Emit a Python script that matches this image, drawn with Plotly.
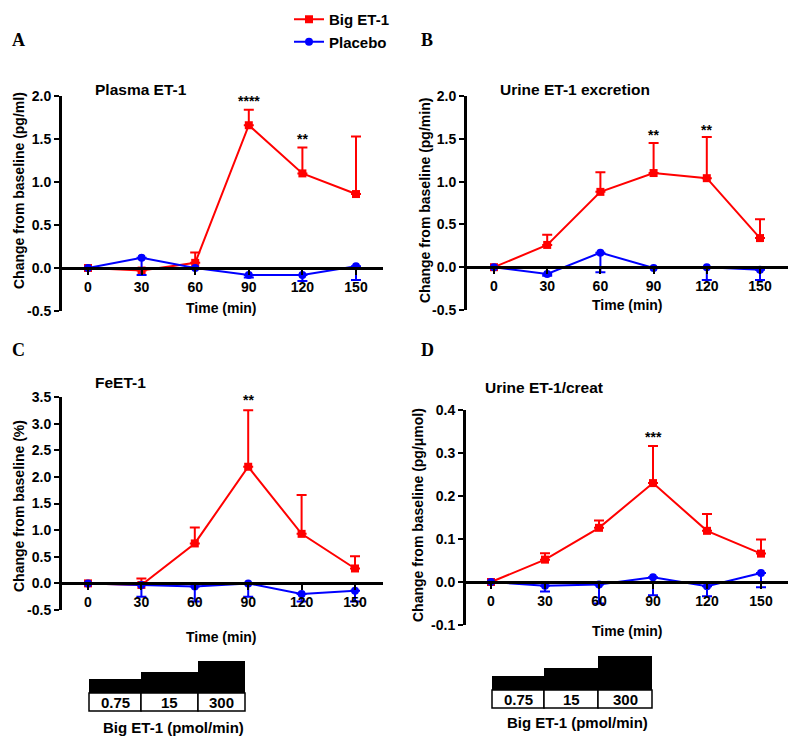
import plotly.graph_objects as go

# page is 800x747; the browser body has an 8px margin, so the figure is 784x731 offset by 8px
OFF = 8
W, H = 800 - 2 * OFF, 747 - 2 * OFF

# ---------------- data ----------------
time = [0, 30, 60, 90, 120, 150]

big_A = [0, -0.03, 0.06, 1.66, 1.10, 0.86]
big_A_err = [0, 0.02, 0.12, 0.18, 0.30, 0.67]
pla_A = [0, 0.12, 0.0, -0.08, -0.08, 0.02]
pla_A_err = [0, 0.20, 0.0, 0.03, 0.07, 0.16]

big_B = [0, 0.26, 0.88, 1.10, 1.04, 0.34]
big_B_err = [0, 0.12, 0.23, 0.35, 0.48, 0.22]
pla_B = [0, -0.08, 0.17, -0.01, 0.0, -0.03]
pla_B_err = [0, 0.02, 0.23, 0.0, 0.15, 0.12]

big_C = [0, -0.03, 0.75, 2.19, 0.93, 0.28]
big_C_err = [0, 0.12, 0.30, 1.06, 0.73, 0.23]
pla_C = [0, -0.03, -0.06, 0.0, -0.20, -0.14]
pla_C_err = [0, 0.22, 0.28, 0.25, 0.14, 0.20]

big_D = [0, 0.052, 0.126, 0.23, 0.119, 0.066]
big_D_err = [0, 0.015, 0.017, 0.086, 0.039, 0.033]
pla_D = [0, -0.009, -0.006, 0.011, -0.010, 0.021]
pla_D_err = [0, 0.013, 0.044, 0.042, 0.023, 0.033]

yticks_A = [-0.5, 0.0, 0.5, 1.0, 1.5, 2.0]
yticks_B = [-0.5, 0.0, 0.5, 1.0, 1.5, 2.0]
yticks_C = [-0.5, 0.0, 0.5, 1.0, 1.5, 2.0, 2.5, 3.0, 3.5]
yticks_D = [-0.1, 0.0, 0.1, 0.2, 0.3, 0.4]

sig_A = [(90, "****", 1.94), (120, "**", 1.50)]
sig_B = [(90, "**", 1.54), (120, "**", 1.60)]
sig_C = [(90, "**", 3.44)]
sig_D = [(90, "***", 0.337)]

titles = ["Plasma ET-1", "Urine ET-1 excretion", "FeET-1", "Urine ET-1/creat"]
ylabels = ["Change from baseline (pg/ml)", "Change from baseline (pg/min)",
           "Change from baseline (%)", "Change from baseline (pg/\u03bcmol)"]
letters = ["A", "B", "C", "D"]
dose_labels = ["0.75", "15", "300"]

RED = "#FF0000"
BLUE = "#0000FF"
FONT = "Arial, Liberation Sans, sans-serif"
SERIF = "Times New Roman, Liberation Serif, serif"


def fx(p):
    return (p - OFF) / W


def fy(p):
    return 1 - (p - OFF) / H


# layout geometry (page pixels)
panels = [
    dict(big=big_A, be=big_A_err, pla=pla_A, pe=pla_A_err, yt=yticks_A, sig=sig_A,
         axL=62, axR=383, x0=88, x150=356, ytop=96, ybot=311,
         title_xy=(93, 89), ylab_xy=(19, 191), letter_xy=(18, 40), time_xy=(221, 308)),
    dict(big=big_B, be=big_B_err, pla=pla_B, pe=pla_B_err, yt=yticks_B, sig=sig_B,
         axL=467, axR=788, x0=494, x150=760, ytop=96, ybot=310,
         title_xy=(498, 89), ylab_xy=(425, 201), letter_xy=(427, 40), time_xy=(627, 305)),
    dict(big=big_C, be=big_C_err, pla=pla_C, pe=pla_C_err, yt=yticks_C, sig=sig_C,
         axL=62, axR=383, x0=88, x150=355, ytop=397, ybot=610,
         title_xy=(93, 383), ylab_xy=(19, 506), letter_xy=(18, 350), time_xy=(221, 637)),
    dict(big=big_D, be=big_D_err, pla=pla_D, pe=pla_D_err, yt=yticks_D, sig=sig_D,
         axL=466, axR=788, x0=491, x150=761, ytop=410, ybot=625,
         title_xy=(483, 387), ylab_xy=(418, 515), letter_xy=(427, 350), time_xy=(627, 631)),
]

fig = go.Figure()
annotations = []
layout_axes = {}

for i, p in enumerate(panels):
    n = "" if i == 0 else str(i + 1)
    xref, yref = "x" + n, "y" + n
    s = (p["x150"] - p["x0"]) / 150.0
    xr = [(p["axL"] - p["x0"]) / s, (p["axR"] - p["x0"]) / s]
    ymin, ymax = p["yt"][0], p["yt"][-1]
    yzero_px = p["ytop"] + (ymax - 0) / (ymax - ymin) * (p["ybot"] - p["ytop"])

    fig.add_trace(go.Scatter(
        x=time, y=p["big"], mode="lines+markers", name="Big ET-1",
        line=dict(color=RED, width=2), marker=dict(symbol="square", size=8, color=RED),
        error_y=dict(type="data", symmetric=False, array=p["be"],
                     arrayminus=[0] * len(time), color=RED, thickness=2, width=5),
        xaxis=xref, yaxis=yref, showlegend=(i == 0), legendrank=1))
    fig.add_trace(go.Scatter(
        x=time, y=p["pla"], mode="lines+markers", name="Placebo",
        line=dict(color=BLUE, width=2), marker=dict(symbol="circle", size=8, color=BLUE),
        error_y=dict(type="data", symmetric=False, array=[0] * len(time),
                     arrayminus=p["pe"], color=BLUE, thickness=2, width=5),
        xaxis=xref, yaxis=yref, showlegend=(i == 0), legendrank=2))

    layout_axes["xaxis" + n] = dict(
        domain=[fx(p["axL"]), fx(p["axR"])], range=xr, anchor="free",
        position=fy(yzero_px), showline=True, linecolor="black", linewidth=3,
        ticks="outside", ticklen=5, tickwidth=2, tickcolor="black",
        tickvals=time, ticktext=[str(t) for t in time], automargin=False,
        tickfont=dict(family=FONT, size=14, color="black", weight="bold"),
        showgrid=False, zeroline=False, fixedrange=True)
    layout_axes["yaxis" + n] = dict(
        domain=[fy(p["ybot"]), fy(p["ytop"])], range=[ymin, ymax], anchor=xref,
        showline=True, linecolor="black", linewidth=3, automargin=False,
        ticks="outside", ticklen=5, tickwidth=2, tickcolor="black",
        tickvals=p["yt"], ticktext=[f"{v:.1f}" for v in p["yt"]],
        tickfont=dict(family=FONT, size=14, color="black", weight="bold"),
        showgrid=False, zeroline=False, fixedrange=True)

    for (tx, txt, ty) in p["sig"]:
        annotations.append(dict(x=tx, y=ty, xref=xref, yref=yref, text=txt, showarrow=False,
                                font=dict(family=FONT, size=14, color="black", weight="bold")))

    annotations.append(dict(x=fx(p["title_xy"][0]), y=fy(p["title_xy"][1]), xref="paper", yref="paper",
                            xanchor="left", yanchor="middle", text=titles[i], showarrow=False,
                            font=dict(family=FONT, size=15.5, color="black", weight="bold")))
    annotations.append(dict(x=fx(p["ylab_xy"][0]), y=fy(p["ylab_xy"][1]), xref="paper", yref="paper",
                            xanchor="center", yanchor="middle", text=ylabels[i], textangle=-90,
                            showarrow=False,
                            font=dict(family=FONT, size=14, color="black", weight="bold")))
    annotations.append(dict(x=fx(p["letter_xy"][0]), y=fy(p["letter_xy"][1]), xref="paper", yref="paper",
                            xanchor="center", yanchor="middle", text=letters[i], showarrow=False,
                            font=dict(family=SERIF, size=18, color="black", weight="bold")))
    annotations.append(dict(x=fx(p["time_xy"][0]), y=fy(p["time_xy"][1]), xref="paper", yref="paper",
                            xanchor="center", yanchor="middle", text="Time (min)", showarrow=False,
                            font=dict(family=FONT, size=14, color="black", weight="bold")))

# dose step boxes below panels C and D
shapes = []
dose_geo = [
    dict(xs=[89, 141, 198, 245], tops=[679, 672, 661], mid=693, bot=711, lab_y=727, lab_x=173),
    dict(xs=[492, 544, 598, 652], tops=[676, 668, 656], mid=690, bot=708, lab_y=722, lab_x=577),
]
for g in dose_geo:
    for k, lab in enumerate(dose_labels):
        x1, x2 = g["xs"][k], g["xs"][k + 1]
        shapes.append(dict(type="rect", xref="paper", yref="paper",
                           x0=fx(x1), x1=fx(x2), y0=fy(g["mid"]), y1=fy(g["tops"][k]),
                           fillcolor="black", line=dict(width=0)))
        shapes.append(dict(type="rect", xref="paper", yref="paper",
                           x0=fx(x1), x1=fx(x2), y0=fy(g["bot"]), y1=fy(g["mid"]),
                           fillcolor="white", line=dict(color="black", width=1.5)))
        annotations.append(dict(x=fx((x1 + x2) / 2), y=fy((g["mid"] + g["bot"]) / 2 + 0.5),
                                xref="paper", yref="paper", text=lab, showarrow=False,
                                xanchor="center", yanchor="middle",
                                font=dict(family=FONT, size=15, color="black", weight="bold")))
    annotations.append(dict(x=fx(g["lab_x"]), y=fy(g["lab_y"]), xref="paper", yref="paper",
                            text="Big ET-1 (pmol/min)", showarrow=False,
                            xanchor="center", yanchor="middle",
                            font=dict(family=FONT, size=15, color="black", weight="bold")))

fig.update_layout(
    template="none",
    width=W, height=H, margin=dict(l=0, r=0, t=0, b=0, autoexpand=False),
    paper_bgcolor="white", plot_bgcolor="white",
    annotations=annotations, shapes=shapes,
    legend=dict(x=fx(289), y=fy(3), xanchor="left", yanchor="top", bgcolor="rgba(0,0,0,0)",
                itemwidth=30, tracegroupgap=0,
                font=dict(family=FONT, size=15, color="black", weight="bold")),
    **layout_axes,
)

fig.write_html("out.html")
